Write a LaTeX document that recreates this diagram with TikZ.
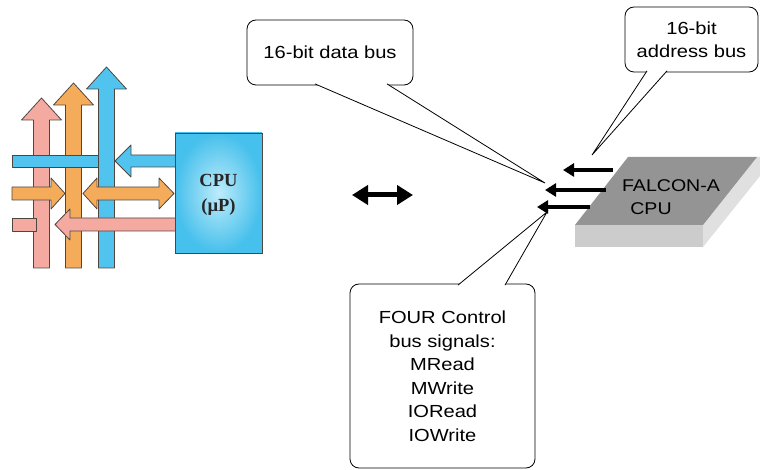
\documentclass[tikz,border=0pt]{standalone}
\usepackage{fontspec}
\setmainfont{Liberation Sans}[FakeStretch=1.15]
\newfontfamily\chipfont{Liberation Serif}
\usetikzlibrary{arrows.meta}

\definecolor{pinkbus}{RGB}{244,170,160}
\definecolor{orangebus}{RGB}{245,172,90}
\definecolor{bluebus}{RGB}{80,196,238}
\definecolor{busedge}{RGB}{80,70,64}
\definecolor{cpulight}{RGB}{190,235,250}
\definecolor{cpudark}{RGB}{70,192,236}

% fat upward bus arrow: centre x, tip y, colour
\newcommand{\busup}[3]{%
  \filldraw[busline, fill=#3] (#1-8,268) -- (#1-8,#2+22) -- (#1-20,#2+22)
    -- (#1,#2) -- (#1+20,#2+22) -- (#1+8,#2+22) -- (#1+8,268) -- cycle;}

\begin{document}
\begin{tikzpicture}[x=1pt, y=-1pt]
    \tikzstyle{busline}=[draw=busedge, line width=0.8pt, line join=round]
    \tikzstyle{bubble}=[draw, line width=0.8pt, rounded corners=9pt, fill=white,
      align=center, font=\fontsize{17.5}{23.5}\selectfont]
    \tikzstyle{wire}=[line width=3.4pt, -{Triangle[length=11pt, width=13pt]}]
    \useasboundingbox (0,0) rectangle (760,470);

    % system bus on the left
    \busup{41.5}{98}{pinkbus}
    \busup{73.5}{83}{orangebus}
    \filldraw[busline, fill=bluebus] (12,155) rectangle (106,167);
    \busup{106.5}{67}{bluebus}
    \filldraw[busline, fill=bluebus] (176,155) -- (131,155) -- (131,145) -- (115,161)
      -- (131,177) -- (131,167) -- (176,167) -- cycle;
    \filldraw[busline, fill=orangebus] (12,187) -- (51,187) -- (51,178) -- (65,193.5)
      -- (51,209) -- (51,200) -- (12,200) -- cycle;
    \filldraw[busline, fill=orangebus] (83,193.5) -- (97,178) -- (97,187) -- (159,187)
      -- (159,178) -- (174,193.5) -- (159,209) -- (159,200) -- (97,200) -- (97,209) -- cycle;
    \filldraw[busline, fill=pinkbus] (12,218) rectangle (36,231);
    \filldraw[busline, fill=pinkbus] (176,218) -- (70,218) -- (70,209) -- (55,224.5)
      -- (70,240) -- (70,231) -- (176,231) -- cycle;

    \shade[inner color=cpulight, outer color=cpudark] (175,133) rectangle (262,253);
    \draw[line width=0.8pt, draw=busedge] (175,133) rectangle (262,253);
    \node[font=\chipfont\bfseries\fontsize{18.5}{25}\selectfont, text=black!85, align=center]
      (cpu) at (218.5,195) {CPU\\(µP)};

    % link between the two halves
    \draw[line width=5pt, {Triangle[length=16pt, width=19pt]}-{Triangle[length=16pt, width=19pt]}]
      (352,195) -- (413,195);

    % FALCON-A chip
    \coordinate (chipA) at (628,157);
    \coordinate (chipB) at (757,157);
    \coordinate (chipC) at (703,225);
    \coordinate (chipD) at (575,225);
    \fill[black!20] (chipD) -- (chipC) -- (703,247) -- (575,247) -- cycle;
    \fill[black!12] (chipC) -- (chipB) -- (760,157) -- (760,176) -- (703,247) -- cycle;
    \fill[black!42] (chipA) -- (chipB) -- (chipC) -- (chipD) -- cycle;
    \node[font=\fontsize{17}{20}\selectfont] (falcon) at (671,186) {FALCON-A};
    \node[font=\fontsize{17}{20}\selectfont] (falconcpu) at (651,209) {CPU};

    % bus wires at the chip
    \coordinate (addrA) at (613,170);
    \coordinate (addrB) at (563,170);
    \coordinate (dataA) at (545,190);
    \coordinate (dataB) at (606,190);
    \coordinate (ctrlA) at (590,207);
    \coordinate (ctrlB) at (537,207);
    \draw[wire] (addrA) -- (addrB);
    \draw[wire, {Triangle[length=11pt, width=13pt]}-] (dataA) -- (dataB);
    \draw[wire] (ctrlA) -- (ctrlB);

    % callouts
    \coordinate (datatip) at (545,183);
    \coordinate (addrtip) at (592,155);
    \coordinate (ctrltip) at (547,212);
    \node[bubble, minimum width=166pt, minimum height=65pt] (databus) at (330,52.5)
      {16-bit data bus};
    \node[bubble, minimum width=133pt, minimum height=65pt] (addrbus) at (691.5,39.5)
      {16-bit\\address bus};
    \node[bubble, minimum width=185pt, minimum height=184pt] (ctrlbus) at (442.5,376)
      {FOUR Control\\bus signals:\\MRead\\MWrite\\IORead\\IOWrite};
    \filldraw[fill=white, line width=0.8pt] ([xshift=-15pt, yshift=1.5pt]databus.south)
      -- (datatip) -- ([xshift=57pt, yshift=1.5pt]databus.south);
    \filldraw[fill=white, line width=0.8pt] ([xshift=-44.5pt, yshift=1.5pt]addrbus.south)
      -- (addrtip) -- ([xshift=-24.5pt, yshift=1.5pt]addrbus.south);
    \filldraw[fill=white, line width=0.8pt] ([xshift=15.5pt, yshift=-1.5pt]ctrlbus.north)
      -- (ctrltip) -- ([xshift=62.5pt, yshift=-1.5pt]ctrlbus.north);
\end{tikzpicture}
\end{document}
